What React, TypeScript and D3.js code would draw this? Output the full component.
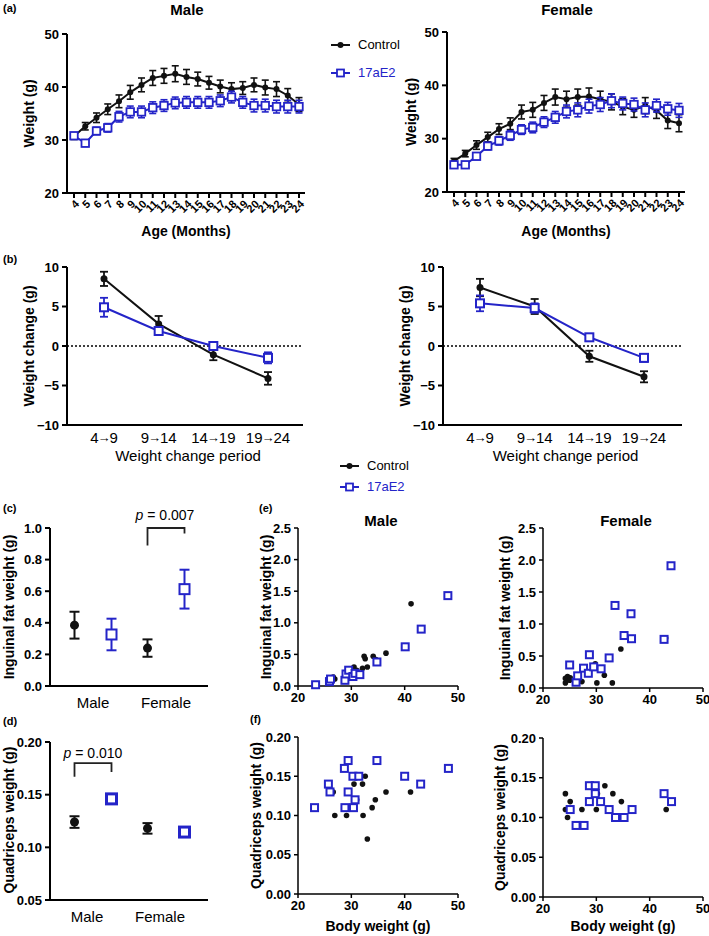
import React from 'react';
import * as d3 from 'd3';

const FONT = 'Arial, "Liberation Sans", Helvetica, sans-serif';
const BLUE = '#2424c8';
const BLACK = '#111111';

// ---------- (a) body weight by age ----------
const ageMonths = [4, 5, 6, 7, 8, 9, 10, 11, 12, 13, 14, 15, 16, 17, 18, 19, 20, 21, 22, 23, 24];
const weightTicks = [20, 30, 40, 50];
const maleCtrlWeight = [30.7, 32.6, 34.2, 35.8, 37.3, 39.0, 40.4, 41.7, 42.1, 42.5, 41.9, 41.5, 40.8, 40.1, 39.6, 39.8, 40.4, 39.9, 39.6, 38.4, 36.7];
const maleCtrlSem = [0.6, 0.7, 0.9, 1.0, 1.2, 1.3, 1.3, 1.4, 1.4, 1.5, 1.4, 1.3, 1.2, 1.2, 1.2, 1.2, 1.3, 1.4, 1.4, 1.3, 1.3];
const maleE2Weight = [30.8, 29.4, 31.7, 32.3, 34.4, 35.3, 35.3, 36.1, 36.5, 37.0, 37.1, 37.1, 37.1, 37.4, 38.1, 37.1, 36.5, 36.5, 36.3, 36.3, 36.3];
const maleE2Sem = [0.5, 0.6, 0.7, 0.8, 1.0, 1.1, 1.1, 1.1, 1.1, 1.1, 1.1, 1.1, 1.1, 1.1, 1.1, 1.1, 1.2, 1.2, 1.2, 1.2, 1.2];
const femCtrlWeight = [25.8, 27.2, 28.8, 30.3, 31.8, 32.8, 35.0, 35.4, 36.7, 37.8, 37.4, 37.8, 37.9, 37.4, 36.9, 36.0, 35.4, 36.2, 35.3, 33.4, 32.9];
const femCtrlSem = [0.5, 0.6, 0.8, 0.9, 1.0, 1.1, 1.3, 1.4, 1.4, 1.5, 1.5, 1.5, 1.6, 1.5, 1.5, 1.5, 1.4, 1.5, 1.5, 1.5, 1.6];
const femE2Weight = [25.1, 25.1, 26.7, 28.6, 29.6, 30.6, 31.7, 32.1, 33.1, 34.0, 35.1, 35.4, 36.1, 36.4, 37.1, 36.6, 36.4, 35.4, 36.2, 35.6, 35.3];
const femE2Sem = [0.4, 0.5, 0.6, 0.7, 0.8, 0.9, 0.9, 1.0, 1.0, 1.1, 1.2, 1.3, 1.3, 1.3, 1.3, 1.2, 1.2, 1.3, 1.2, 1.2, 1.3];

// ---------- (b) weight change ----------
const periods = ['4→9', '9→14', '14→19', '19→24'];
const changeTicks = [-10, -5, 0, 5, 10];
const maleCtrlChange = [8.5, 2.8, -1.1, -4.1];
const maleCtrlChangeSem = [0.9, 1.0, 0.7, 0.8];
const maleE2Change = [4.9, 1.9, 0.0, -1.5];
const maleE2ChangeSem = [1.2, 0.5, 0.35, 0.7];
const femCtrlChange = [7.4, 5.0, -1.3, -3.9];
const femCtrlChangeSem = [1.1, 0.95, 0.7, 0.7];
const femE2Change = [5.4, 4.8, 1.1, -1.5];
const femE2ChangeSem = [1.0, 0.6, 0.4, 0.5];

// ---------- (c) inguinal fat, (d) quadriceps ----------
const sexes = ['Male', 'Female'];
const fatTicks = [0, 0.2, 0.4, 0.6, 0.8, 1.0];
const fatCtrlMean = [0.385, 0.24];
const fatCtrlSem = [0.085, 0.055];
const fatE2Mean = [0.326, 0.613];
const fatE2Sem = [0.1, 0.123];
const quadTicks = [0.05, 0.1, 0.15, 0.2];
const quadCtrlMean = [0.124, 0.118];
const quadCtrlSem = [0.0055, 0.005];
const quadE2Mean = [0.146, 0.1145];
const quadE2Sem = [0.003, 0.002];

// ---------- (e) fat vs body weight, (f) quadriceps vs body weight ----------
const bodyTicks = [20, 30, 40, 50];
const scatterFatTicks = [0, 0.5, 1.0, 1.5, 2.0, 2.5];
const scatterQuadTicks = [0, 0.05, 0.1, 0.15, 0.2];
const eMaleCtrl: [number, number][] = [[26.6, 0.14], [26.9, 0.11], [29.1, 0.12], [29.6, 0.22], [30.5, 0.30], [31.0, 0.25], [32.1, 0.28], [32.4, 0.47], [32.6, 0.43], [33.0, 0.30], [34.1, 0.47], [34.6, 0.42], [36.5, 0.52], [41.2, 1.30]];
const eMaleE2: [number, number][] = [[23.3, 0.02], [25.9, 0.07], [26.1, 0.11], [28.8, 0.09], [29.0, 0.19], [29.5, 0.25], [30.3, 0.15], [30.7, 0.20], [31.6, 0.18], [34.8, 0.38], [40.1, 0.62], [43.1, 0.90], [48.1, 1.43]];
const eFemCtrl: [number, number][] = [[24.2, 0.15], [24.2, 0.08], [24.6, 0.18], [25.1, 0.16], [25.0, 0.12], [27.3, 0.10], [29.8, 0.38], [30.1, 0.08], [31.5, 0.20], [33.0, 0.08], [34.6, 0.61], [43.0, 0.78]];
const eFemE2: [number, number][] = [[25.0, 0.36], [26.2, 0.09], [26.5, 0.19], [27.6, 0.31], [28.5, 0.23], [28.7, 0.52], [29.5, 0.33], [30.9, 0.30], [32.4, 0.47], [33.5, 1.29], [35.2, 0.82], [36.5, 1.16], [36.6, 0.77], [42.7, 0.76], [44.0, 1.91]];
const fMaleCtrl: [number, number][] = [[26.6, 0.13], [26.9, 0.10], [29.1, 0.10], [29.6, 0.11], [30.5, 0.14], [31.0, 0.12], [32.1, 0.14], [32.6, 0.15], [32.2, 0.10], [33.0, 0.07], [33.9, 0.11], [34.5, 0.12], [36.5, 0.13], [41.1, 0.13]];
const fMaleE2: [number, number][] = [[23.1, 0.11], [25.7, 0.14], [26.0, 0.13], [28.7, 0.16], [29.4, 0.17], [29.4, 0.13], [28.8, 0.11], [30.3, 0.15], [31.4, 0.15], [30.7, 0.12], [30.4, 0.11], [34.8, 0.17], [40.0, 0.15], [43.0, 0.14], [48.2, 0.16]];
const fFemCtrl: [number, number][] = [[24.2, 0.13], [24.2, 0.11], [24.6, 0.10], [25.1, 0.12], [25.0, 0.11], [27.3, 0.11], [30.0, 0.11], [30.2, 0.13], [31.6, 0.14], [33.1, 0.13], [34.7, 0.12], [43.1, 0.11]];
const fFemE2: [number, number][] = [[25.1, 0.11], [26.2, 0.09], [27.7, 0.09], [28.7, 0.14], [29.8, 0.14], [28.7, 0.12], [29.8, 0.13], [30.8, 0.12], [32.4, 0.11], [33.6, 0.10], [35.2, 0.10], [36.7, 0.11], [42.7, 0.13], [44.1, 0.12]];

const minusFmt = (f: (n: number) => string) => (v: number) => f(v).replace('-', '−');

function YAxis({ x, scale, ticks, fmt, sw = 2, tl = 5, gap = 3, fs = 13 }: any) {
  const [d0, d1] = scale.domain();
  return (
    <g>
      <line x1={x} x2={x} y1={scale(d0)} y2={scale(d1)} stroke="#000" strokeWidth={sw} />
      {ticks.map((t: number) => (
        <g key={t}>
          <line x1={x - tl} x2={x} y1={scale(t)} y2={scale(t)} stroke="#000" strokeWidth={sw} />
          <text x={x - tl - gap} y={scale(t)} dy="0.36em" textAnchor="end" fontSize={fs} fontWeight="bold">
            {fmt(t)}
          </text>
        </g>
      ))}
    </g>
  );
}

function VTitle({ x, y, text, fs = 14 }: any) {
  return (
    <text transform={`translate(${x},${y}) rotate(-90)`} textAnchor="middle" fontSize={fs} fontWeight="bold">
      {text}
    </text>
  );
}

function ErrBar({ x, y1, y2, w, color, sw = 1.6 }: any) {
  return (
    <g stroke={color} strokeWidth={sw} fill="none">
      <line x1={x} x2={x} y1={y1} y2={y2} />
      <line x1={x - w / 2} x2={x + w / 2} y1={y1} y2={y1} />
      <line x1={x - w / 2} x2={x + w / 2} y1={y2} y2={y2} />
    </g>
  );
}

function Sq({ x, y, s, sw = 2, color = BLUE }: any) {
  return <rect x={x - s / 2} y={y - s / 2} width={s} height={s} fill="#fff" stroke={color} strokeWidth={sw} />;
}

function AgePanel({ ax, xr, yTop, yBot, ctrl, ctrlSem, e2, e2Sem, title, titleX, yTitleX }: any) {
  const x = d3.scaleLinear().domain(d3.extent(ageMonths) as [number, number]).range(xr);
  const y = d3.scaleLinear().domain([20, 50]).range([yBot, yTop]);
  const line = d3.line<number>().x((_, i) => x(ageMonths[i])).y((d) => y(d));
  const xEnd = xr[1] + 6;
  return (
    <g>
      <text x={titleX} y={15} textAnchor="middle" fontSize={15} fontWeight="bold">{title}</text>
      <YAxis x={ax} scale={y} ticks={weightTicks} fmt={(v: number) => String(v)} />
      <line x1={ax} x2={xEnd} y1={yBot} y2={yBot} stroke="#000" strokeWidth={2} />
      {ageMonths.map((m) => (
        <g key={m}>
          <line x1={x(m)} x2={x(m)} y1={yBot} y2={yBot + 5} stroke="#000" strokeWidth={2} />
          <text transform={`translate(${x(m) + 3},${yBot + 9}) rotate(-45)`} textAnchor="end" dy="0.35em" fontSize={11} fontWeight="bold">
            {m}
          </text>
        </g>
      ))}
      <text x={(ax + xEnd) / 2} y={236} textAnchor="middle" fontSize={14} fontWeight="bold">Age (Months)</text>
      <VTitle x={yTitleX} y={(yTop + yBot) / 2} text="Weight (g)" />
      <path d={line(ctrl) || ''} fill="none" stroke={BLACK} strokeWidth={2} />
      {ctrl.map((v: number, i: number) => (
        <ErrBar key={i} x={x(ageMonths[i])} y1={y(v + ctrlSem[i])} y2={y(v - ctrlSem[i])} w={7} color={BLACK} />
      ))}
      {ctrl.map((v: number, i: number) => (
        <circle key={i} cx={x(ageMonths[i])} cy={y(v)} r={3} fill={BLACK} />
      ))}
      <path d={line(e2) || ''} fill="none" stroke={BLUE} strokeWidth={2} />
      {e2.map((v: number, i: number) => (
        <ErrBar key={i} x={x(ageMonths[i])} y1={y(v + e2Sem[i])} y2={y(v - e2Sem[i])} w={7} color={BLUE} />
      ))}
      {e2.map((v: number, i: number) => (
        <Sq key={i} x={x(ageMonths[i])} y={y(v)} s={7.5} sw={1.8} />
      ))}
    </g>
  );
}

function PeriodLabel({ x, y, text }: any) {
  const [a, b] = text.split('→');
  return (
    <text x={x} y={y} textAnchor="middle" fontSize={15}>
      {a}
      <tspan fontSize={13} fontWeight="bold" dx={-1} dy={-1}>→</tspan>
      <tspan dx={-1} dy={1}>{b}</tspan>
    </text>
  );
}

function ChangePanel({ ax, xEnd, ctrl, ctrlSem, e2, e2Sem, yTitleX }: any) {
  const y = d3.scaleLinear().domain([-10, 10]).range([425, 267]);
  const x = d3.scalePoint<string>().domain(periods).range([ax + 37, ax + 201]);
  const line = d3.line<number>().x((_, i) => x(periods[i]) as number).y((d) => y(d));
  return (
    <g>
      <YAxis x={ax} scale={y} ticks={changeTicks} fmt={minusFmt(d3.format('d'))} />
      <line x1={ax} x2={xEnd} y1={y(-10)} y2={y(-10)} stroke="#000" strokeWidth={2} />
      <line x1={ax} x2={xEnd} y1={y(0)} y2={y(0)} stroke="#000" strokeWidth={1.3} strokeDasharray="2,2" />
      {periods.map((p) => (
        <PeriodLabel key={p} x={x(p)} y={443} text={p} />
      ))}
      <text x={(ax + xEnd) / 2 + 3} y={461} textAnchor="middle" fontSize={15}>Weight change period</text>
      <VTitle x={yTitleX} y={346} text="Weight change (g)" />
      <path d={line(ctrl) || ''} fill="none" stroke={BLACK} strokeWidth={2} />
      {ctrl.map((v: number, i: number) => (
        <ErrBar key={i} x={x(periods[i])} y1={y(v + ctrlSem[i])} y2={y(v - ctrlSem[i])} w={8} color={BLACK} sw={1.8} />
      ))}
      {ctrl.map((v: number, i: number) => (
        <circle key={i} cx={x(periods[i])} cy={y(v)} r={3.5} fill={BLACK} />
      ))}
      <path d={line(e2) || ''} fill="none" stroke={BLUE} strokeWidth={2} />
      {e2.map((v: number, i: number) => (
        <ErrBar key={i} x={x(periods[i])} y1={y(v + e2Sem[i])} y2={y(v - e2Sem[i])} w={8} color={BLUE} sw={1.8} />
      ))}
      {e2.map((v: number, i: number) => (
        <Sq key={i} x={x(periods[i])} y={y(v)} s={8} sw={2} />
      ))}
    </g>
  );
}

function DotPanel({ yTop, yBot, domain, ticks, fmt, ctrl, ctrlSem, e2, e2Sem, labelY, labelDx, yTitle, yTitleY, bracket, pText, pX, pY, sqSize, sqSw }: any) {
  const ax = 50;
  const y = d3.scaleLinear().domain(domain).range([yBot, yTop]);
  const x = d3.scalePoint<string>().domain(sexes).range([93, 166]);
  const off = 18.5;
  const [gi, ga, gb, top, la, lb] = bracket;
  const bx1 = (x(sexes[gi]) as number) + (ga ? off : -off);
  const bx2 = (x(sexes[gi]) as number) + (gb ? off : -off);
  return (
    <g>
      <YAxis x={ax} scale={y} ticks={ticks} fmt={fmt} />
      <line x1={ax} x2={208} y1={yBot} y2={yBot} stroke="#000" strokeWidth={2} />
      {sexes.map((s) => (
        <text key={s} x={(x(s) as number) + labelDx} y={labelY} textAnchor="middle" fontSize={15}>{s}</text>
      ))}
      <VTitle x={14} y={yTitleY} text={yTitle} />
      {sexes.map((s, i) => {
        const cx = (x(s) as number) - off;
        const ex = (x(s) as number) + off;
        return (
          <g key={s}>
            <ErrBar x={cx} y1={y(ctrl[i] + ctrlSem[i])} y2={y(ctrl[i] - ctrlSem[i])} w={10} color={BLACK} sw={2} />
            <circle cx={cx} cy={y(ctrl[i])} r={4.5} fill={BLACK} />
            <ErrBar x={ex} y1={y(e2[i] + e2Sem[i])} y2={y(e2[i] - e2Sem[i])} w={10} color={BLUE} sw={2} />
            <Sq x={ex} y={y(e2[i])} s={sqSize} sw={sqSw} />
          </g>
        );
      })}
      <path d={`M${bx1},${y(la)}V${y(top)}H${bx2}V${y(lb)}`} fill="none" stroke="#222" strokeWidth={1.8} />
      <text x={pX} y={pY} textAnchor="middle" fontSize={14}>
        <tspan fontStyle="italic">p</tspan> = {pText}
      </text>
    </g>
  );
}

function ScatterPanel({ ax, xr, yTop, yBot, yDomain, yTicks, yFmt, ctrl, e2, title, yTitle, yTitleX, xTitle }: any) {
  const x = d3.scaleLinear().domain([20, 50]).range(xr);
  const y = d3.scaleLinear().domain(yDomain).range([yBot, yTop]);
  return (
    <g>
      {title && <text x={(xr[0] + xr[1]) / 2 + 3} y={526} textAnchor="middle" fontSize={15} fontWeight="bold">{title}</text>}
      <YAxis x={ax} scale={y} ticks={yTicks} fmt={yFmt} sw={1.5} tl={4} gap={3} />
      <line x1={ax} x2={xr[1]} y1={yBot} y2={yBot} stroke="#000" strokeWidth={1.5} />
      {bodyTicks.map((t) => (
        <g key={t}>
          <line x1={x(t)} x2={x(t)} y1={yBot} y2={yBot + 4} stroke="#000" strokeWidth={1.5} />
          <text x={x(t)} y={yBot + 16} textAnchor="middle" fontSize={13} fontWeight="bold">{t}</text>
        </g>
      ))}
      <VTitle x={yTitleX} y={(yTop + yBot) / 2} text={yTitle} />
      {xTitle && <text x={(xr[0] + xr[1]) / 2} y={931} textAnchor="middle" fontSize={14} fontWeight="bold">{xTitle}</text>}
      {ctrl.map((d: [number, number], i: number) => (
        <circle key={'c' + i} cx={x(d[0])} cy={y(d[1])} r={2.8} fill={BLACK} />
      ))}
      {e2.map((d: [number, number], i: number) => (
        <Sq key={'e' + i} x={x(d[0])} y={y(d[1])} s={7} sw={2} />
      ))}
    </g>
  );
}

function Legend({ x, y1, y2 }: any) {
  return (
    <g>
      <line x1={x} x2={x + 19} y1={y1 - 4} y2={y1 - 4} stroke={BLACK} strokeWidth={2} />
      <circle cx={x + 9.5} cy={y1 - 4} r={3} fill={BLACK} />
      <text x={x + 27} y={y1} fontSize={13}>Control</text>
      <line x1={x} x2={x + 19} y1={y2 - 4} y2={y2 - 4} stroke={BLUE} strokeWidth={2} />
      <Sq x={x + 9.5} y={y2 - 4} s={7} sw={1.8} />
      <text x={x + 27} y={y2} fontSize={13} fill={BLUE}>17aE2</text>
    </g>
  );
}

export default function App() {
  const f1 = d3.format('.1f');
  const f2 = d3.format('.2f');
  return (
    <svg
      width={709}
      height={936}
      viewBox="0 0 709 936"
      style={{ position: 'absolute', left: 0, top: 0, display: 'block', background: '#fff' }}
      fontFamily={FONT}
    >
      <rect width={709} height={936} fill="#fff" />
      {/* panel labels */}
      <text x={3} y={12} fontSize={11} fontWeight="bold">(a)</text>
      <text x={3} y={263} fontSize={11} fontWeight="bold">(b)</text>
      <text x={3} y={512} fontSize={11} fontWeight="bold">(c)</text>
      <text x={3} y={725} fontSize={11} fontWeight="bold">(d)</text>
      <text x={259} y={512} fontSize={11} fontWeight="bold">(e)</text>
      <text x={250} y={723} fontSize={11} fontWeight="bold">(f)</text>

      {/* (a) */}
      <AgePanel ax={67} xr={[74, 299]} yTop={34} yBot={193} ctrl={maleCtrlWeight} ctrlSem={maleCtrlSem} e2={maleE2Weight} e2Sem={maleE2Sem} title="Male" titleX={187} yTitleX={34} />
      <AgePanel ax={447} xr={[454, 679]} yTop={32} yBot={192} ctrl={femCtrlWeight} ctrlSem={femCtrlSem} e2={femE2Weight} e2Sem={femE2Sem} title="Female" titleX={567} yTitleX={416} />
      <Legend x={331} y1={49} y2={77} />

      {/* (b) */}
      <ChangePanel ax={67} xEnd={303} ctrl={maleCtrlChange} ctrlSem={maleCtrlChangeSem} e2={maleE2Change} e2Sem={maleE2ChangeSem} yTitleX={34} />
      <ChangePanel ax={443} xEnd={682} ctrl={femCtrlChange} ctrlSem={femCtrlChangeSem} e2={femE2Change} e2Sem={femE2ChangeSem} yTitleX={410} />
      <Legend x={340} y1={470} y2={491} />

      {/* (c) */}
      <DotPanel yTop={528} yBot={686} domain={[0, 1.0]} ticks={fatTicks} fmt={f1} ctrl={fatCtrlMean} ctrlSem={fatCtrlSem} e2={fatE2Mean} e2Sem={fatE2Sem}
        labelY={708} labelDx={0} yTitle="Inguinal fat weight (g)" yTitleY={607}
        bracket={[1, 0, 1, 1.0, 0.89, 0.965]} pText="0.007" pX={165} pY={520} sqSize={10} sqSw={2} />
      {/* (d) */}
      <DotPanel yTop={742} yBot={900} domain={[0.05, 0.2]} ticks={quadTicks} fmt={f2} ctrl={quadCtrlMean} ctrlSem={quadCtrlSem} e2={quadE2Mean} e2Sem={quadE2Sem}
        labelY={922} labelDx={-6} yTitle="Quadriceps weight (g)" yTitleY={820}
        bracket={[0, 0, 1, 0.18, 0.167, 0.1715]} pText="0.010" pX={93} pY={758} sqSize={10} sqSw={3} />

      {/* (e) */}
      <ScatterPanel ax={298} xr={[298, 458]} yTop={528} yBot={686} yDomain={[0, 2.5]} yTicks={scatterFatTicks} yFmt={f1} ctrl={eMaleCtrl} e2={eMaleE2} title="Male" yTitle="Inguinal fat weight (g)" yTitleX={271} />
      <ScatterPanel ax={543} xr={[543, 703]} yTop={528} yBot={688} yDomain={[0, 2.5]} yTicks={scatterFatTicks} yFmt={f1} ctrl={eFemCtrl} e2={eFemE2} title="Female" yTitle="Inguinal fat weight (g)" yTitleX={510} />
      {/* (f) */}
      <ScatterPanel ax={298} xr={[298, 458]} yTop={737} yBot={894} yDomain={[0, 0.2]} yTicks={scatterQuadTicks} yFmt={f2} ctrl={fMaleCtrl} e2={fMaleE2} yTitle="Quadriceps weight (g)" yTitleX={261} xTitle="Body weight (g)" />
      <ScatterPanel ax={543} xr={[543, 703]} yTop={738} yBot={897} yDomain={[0, 0.2]} yTicks={scatterQuadTicks} yFmt={f2} ctrl={fFemCtrl} e2={fFemE2} yTitle="Quadriceps weight (g)" yTitleX={505} xTitle="Body weight (g)" />
    </svg>
  );
}
